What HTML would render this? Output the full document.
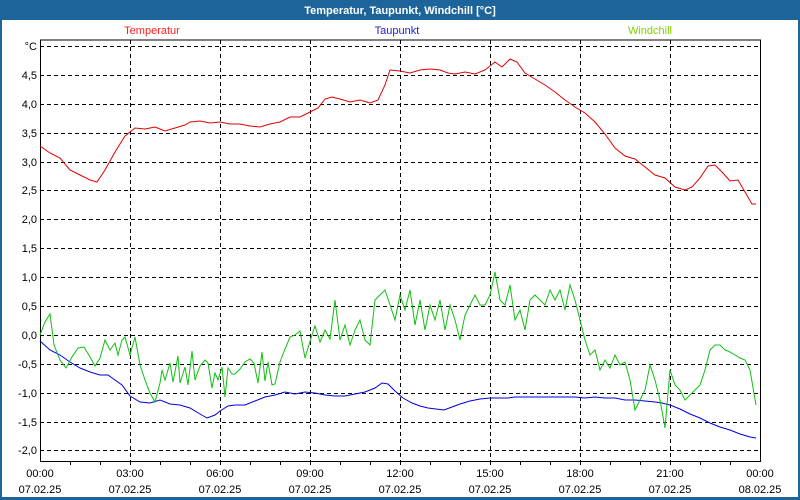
<!DOCTYPE html>
<html><head><meta charset="utf-8"><style>
html,body{margin:0;padding:0;width:800px;height:500px;overflow:hidden;background:#fff}
svg{display:block}
text{font-family:"Liberation Sans",Tahoma,sans-serif;font-size:11px}
</style></head><body>
<svg width="800" height="500" viewBox="0 0 800 500">
<rect x="0" y="0" width="800" height="500" fill="#1c6499"/>
<rect x="2" y="20" width="796" height="477" fill="#fff"/>
<text x="400" y="14" text-anchor="middle" fill="#fff" font-weight="bold" style="font-size:11px">Temperatur, Taupunkt, Windchill [°C]</text>
<text x="152" y="34" text-anchor="middle" fill="#ff2020">Temperatur</text>
<text x="397" y="34" text-anchor="middle" fill="#2020d0">Taupunkt</text>
<text x="650" y="34" text-anchor="middle" fill="#80d000">Windchill</text>
<g stroke="#000" stroke-dasharray="4,3" stroke-width="1">
<path d="M40 46.5H760M40 75.5H760M40 104.5H760M40 133.5H760M40 162.5H760M40 190.5H760M40 219.5H760M40 248.5H760M40 277.5H760M40 306.5H760M40 335.5H760M40 364.5H760M40 393.5H760M40 422.5H760M40 450.5H760"/>
<path d="M130.5 40V461M220.5 40V461M310.5 40V461M400.5 40V461M490.5 40V461M580.5 40V461M670.5 40V461"/>
</g>
<path d="M40.5 40V461.5H760.5V40Z" fill="none" stroke="#000"/>
<g stroke="#000"><path d="M70.5 461v4M100.5 461v4M130.5 461v4M160.5 461v4M190.5 461v4M220.5 461v4M250.5 461v4M280.5 461v4M310.5 461v4M340.5 461v4M370.5 461v4M400.5 461v4M430.5 461v4M460.5 461v4M490.5 461v4M520.5 461v4M550.5 461v4M580.5 461v4M610.5 461v4M640.5 461v4M670.5 461v4M700.5 461v4M730.5 461v4"/></g>
<g text-anchor="end" fill="#000">
<text x="37" y="50">°C</text><text x="37" y="79">4,5</text><text x="37" y="108">4,0</text><text x="37" y="137">3,5</text><text x="37" y="166">3,0</text><text x="37" y="194">2,5</text><text x="37" y="223">2,0</text><text x="37" y="252">1,5</text><text x="37" y="281">1,0</text><text x="37" y="310">0,5</text><text x="37" y="339">0,0</text><text x="37" y="368">-0,5</text><text x="37" y="397">-1,0</text><text x="37" y="426">-1,5</text><text x="37" y="454">-2,0</text>
</g>
<g text-anchor="middle" fill="#000">
<text x="40" y="477">00:00</text><text x="40" y="493">07.02.25</text>
<text x="130" y="477">03:00</text><text x="130" y="493">07.02.25</text>
<text x="220" y="477">06:00</text><text x="220" y="493">07.02.25</text>
<text x="310" y="477">09:00</text><text x="310" y="493">07.02.25</text>
<text x="400" y="477">12:00</text><text x="400" y="493">07.02.25</text>
<text x="490" y="477">15:00</text><text x="490" y="493">07.02.25</text>
<text x="580" y="477">18:00</text><text x="580" y="493">07.02.25</text>
<text x="670" y="477">21:00</text><text x="670" y="493">07.02.25</text>
<text x="760" y="477">00:00</text><text x="760" y="493">08.02.25</text>
</g>
<polyline fill="none" stroke="#e00000" stroke-width="1" points="40,146 50,153 60,158 70,170 80,175 90,180 97,182 105,170 115,152 125,136 135,128 145,129 155,127 165,131 175,128 185,125 190,122 200,121 210,123 220,122 230,124 240,124 250,126 260,127 270,124 280,122 290,117 300,117 310,112 318,108 325,99 332,97 340,99 350,102 360,100 370,103 378,100 385,85 390,70 400,71 410,73 420,70 430,69 440,70 448,73 455,74 465,72 475,74 485,70 495,62 502,67 510,59 517,62 525,73 535,79 545,85 555,92 565,100 575,107 585,113 595,122 605,134 615,148 625,156 635,159 645,167 655,175 665,178 675,187 685,190 692,187 700,178 708,166 715,165 722,172 730,181 738,180 745,192 752,204 756,204"/>
<polyline fill="none" stroke="#0000e0" stroke-width="1" points="40,341 50,350 60,355 70,362 80,368 90,372 100,375 108,375 115,380 122,385 130,396 140,402 150,403 160,400 170,404 180,405 190,408 200,414 207,418 215,415 220,411 228,406 235,405 245,405 255,401 265,397 275,395 285,392 295,394 305,392 315,393 325,395 335,396 345,396 355,394 365,392 375,388 382,383 388,384 395,391 403,398 412,403 420,406 428,408 436,409 444,410 452,407 460,404 470,401 480,399 490,398 500,398 508,398 515,397 525,397 535,397 545,397 555,397 565,397 575,397 585,398 595,397 605,398 615,398 625,400 635,400 645,401 655,402 662,403 670,405 680,409 690,414 700,418 710,423 720,427 730,430 740,434 750,437 756,438"/>
<polyline fill="none" stroke="#10c010" stroke-width="1" points="40,335 45,322 50,314 54,345 60,360 66,368 72,357 78,348 84,347 90,357 95,366 100,358 105,340 110,350 115,343 118,355 122,340 125,337 130,355 135,337 140,365 145,380 150,393 155,402 160,383 162,370 165,380 170,363 173,382 178,356 180,383 185,367 188,385 192,351 195,380 200,366 205,360 208,363 212,388 215,373 218,380 222,367 225,397 228,368 232,374 235,374 240,369 245,362 250,359 254,363 258,383 262,352 265,381 268,362 272,385 275,384 280,362 285,349 290,337 295,335 300,331 305,358 308,348 312,335 315,326 320,342 325,330 330,339 335,300 340,340 345,325 350,345 355,330 360,320 365,340 370,345 375,300 380,295 385,290 390,305 395,320 400,295 405,310 410,290 415,325 420,300 425,330 430,305 435,320 440,300 445,330 450,305 455,320 460,340 465,315 470,305 475,295 480,305 485,305 490,295 495,272 500,300 505,305 510,285 515,320 520,310 525,330 530,300 535,295 540,300 545,305 550,290 555,300 560,290 565,310 570,285 575,300 580,320 585,340 590,355 595,350 600,370 605,360 610,368 615,355 620,365 625,362 630,380 635,410 640,400 645,390 650,365 655,380 660,400 665,428 670,370 675,385 680,390 685,400 690,395 695,390 700,385 705,370 710,350 715,345 720,345 725,350 730,352 735,355 740,358 745,360 750,370 756,405"/>
</svg>
</body></html>
